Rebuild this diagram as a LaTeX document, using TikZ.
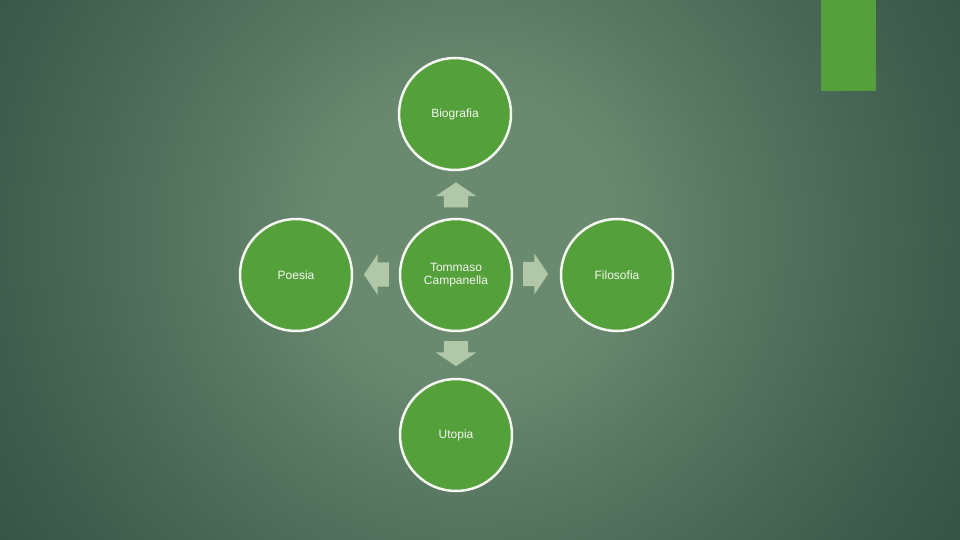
\documentclass[tikz,border=0pt]{standalone}
\usepackage{fontspec}
\setmainfont{Liberation Sans}
\usetikzlibrary{shapes.arrows}

\definecolor{bgmid}{RGB}{106,138,112}
\definecolor{bgdark}{RGB}{44,72,62}
\definecolor{leafgreen}{RGB}{84,160,58}
\definecolor{paleleaf}{RGB}{176,200,168}
\definecolor{softwhite}{RGB}{244,246,242}

\pgfdeclareradialshading{bgglow}{\pgfpoint{0bp}{0bp}}{%
  color(0bp)=(bgmid); color(6bp)=(bgmid); color(14bp)=(bgmid!62!bgdark);
  color(21bp)=(bgmid!32!bgdark); color(28bp)=(bgmid!8!bgdark); color(32bp)=(bgdark); color(50bp)=(bgdark)}

\tikzset{
  topic/.style={draw=softwhite,line width=2.5pt,circle,fill=leafgreen,minimum size=112pt,
    text=softwhite,align=center,font=\fontsize{12}{13.5}\selectfont},
  blockarrow/.style={single arrow,fill=paleleaf,draw=none,minimum height=25pt,
    inner xsep=0pt,inner ysep=12pt,single arrow head extend=8pt,single arrow tip angle=112}
}

\begin{document}
\begin{tikzpicture}[x=1pt,y=-1pt]

  \useasboundingbox (0,0) rectangle (960,540);
  \fill[bgdark] (0,0) rectangle (960,540);
  \begin{scope}
    \clip (0,0) rectangle (960,540);
    \shade[shading=bgglow] (-90,-325) rectangle (1030,795);
  \end{scope}

  \fill[leafgreen] (821,0) rectangle (876,91);

  \node[topic] at (456,275) (campanella) {Tommaso\\Campanella};
  \node[topic] at (455,114) (biografia) {Biografia};
  \node[topic] at (456,435) (utopia) {Utopia};
  \node[topic] at (296,275) (poesia) {Poesia};
  \node[topic] at (617,275) (filosofia) {Filosofia};

  \node[blockarrow,rotate=90] at (456,199) (to-biografia) {};
  \node[blockarrow,rotate=-90] at (456,349.5) (to-utopia) {};
  \node[blockarrow,rotate=180] at (380.5,274.5) (to-poesia) {};
  \node[blockarrow] at (531.5,274) (to-filosofia) {};

\end{tikzpicture}
\end{document}
